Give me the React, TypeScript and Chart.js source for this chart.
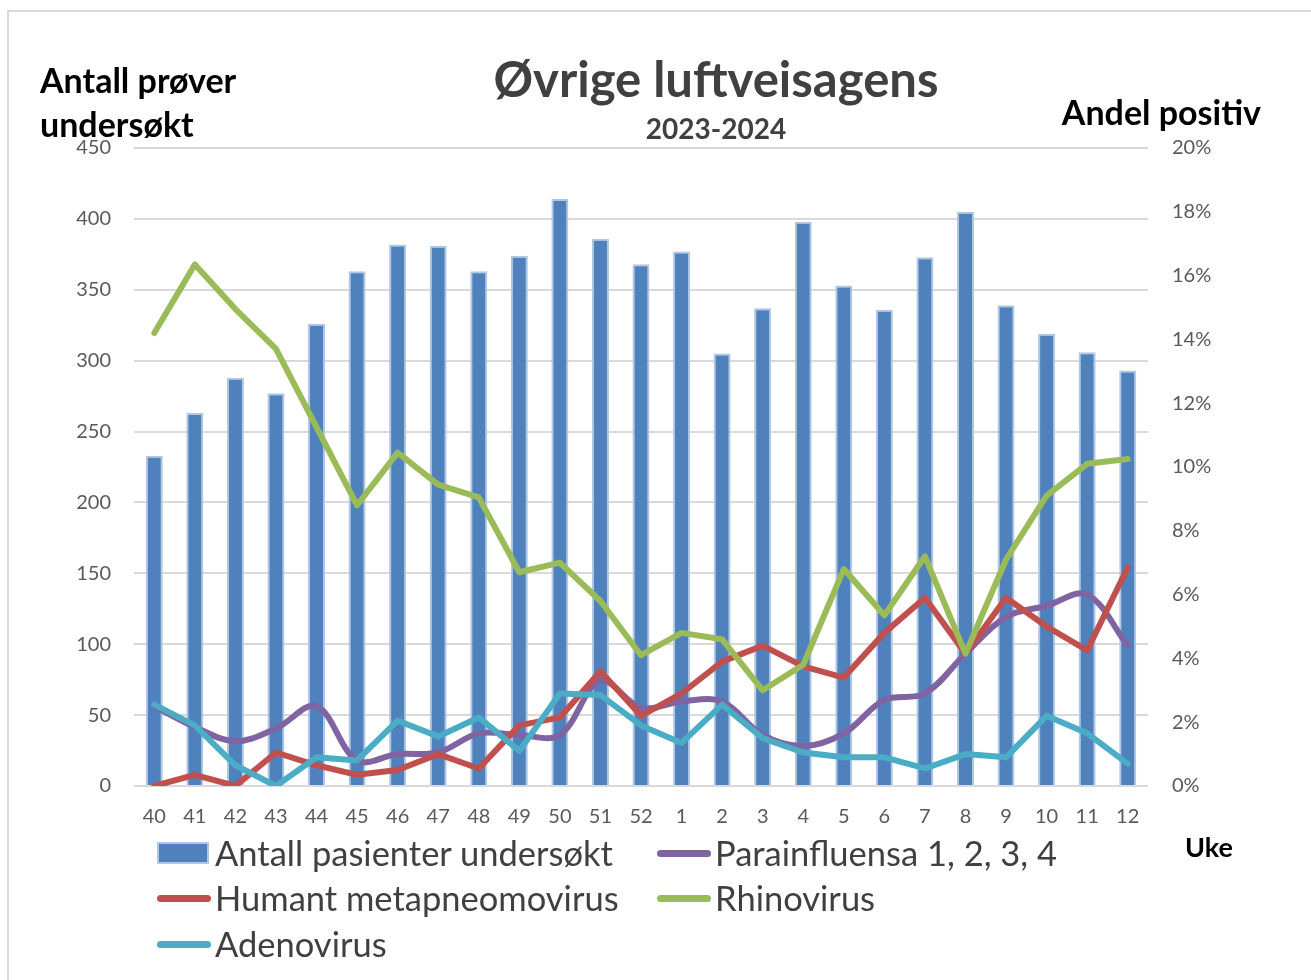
import React, { useEffect, useRef } from "react";
import { Chart, registerables } from "chart.js";

Chart.register(...registerables);

const weeks = ["40", "41", "42", "43", "44", "45", "46", "47", "48", "49", "50", "51", "52", "1", "2", "3", "4", "5", "6", "7", "8", "9", "10", "11", "12"];
const tested = [233, 263, 288, 277, 326, 363, 382, 381, 363, 374, 414, 386, 368, 377, 305, 337, 398, 353, 336, 373, 405, 339, 319, 306, 293];
const parainfluensa = [2.5, 1.85, 1.4, 1.8, 2.5, 0.8, 1.0, 1.05, 1.65, 1.6, 1.6, 3.3, 2.45, 2.65, 2.65, 1.6, 1.25, 1.65, 2.7, 2.9, 4.15, 5.3, 5.65, 6.0, 4.4];
const hmpv = [0, 0.35, 0, 1.05, 0.65, 0.35, 0.5, 1.0, 0.55, 1.9, 2.15, 3.6, 2.2, 2.9, 3.9, 4.4, 3.75, 3.4, 4.8, 5.9, 4.15, 5.9, 5.0, 4.25, 6.85];
const rhino = [14.2, 16.35, 14.95, 13.7, 11.25, 8.8, 10.45, 9.45, 9.05, 6.7, 7.0, 5.8, 4.1, 4.8, 4.6, 3.0, 3.8, 6.8, 5.35, 7.2, 4.15, 7.1, 9.1, 10.1, 10.25];
const adeno = [2.55, 1.9, 0.65, 0, 0.9, 0.8, 2.05, 1.55, 2.15, 1.1, 2.9, 2.85, 1.9, 1.35, 2.55, 1.5, 1.05, 0.9, 0.9, 0.55, 1.0, 0.9, 2.2, 1.65, 0.7];

const leftTicks = [0, 50, 100, 150, 200, 250, 300, 350, 400, 450];
const rightTicks = [0, 2, 4, 6, 8, 10, 12, 14, 16, 18, 20];

const titleText = "Øvrige luftveisagens";
const subtitleText = "2023-2024";
const leftAxisTitle = ["Antall prøver", "undersøkt"];
const rightAxisTitle = "Andel positiv";
const xAxisTitle = "Uke";

const C_BAR = "#4f81bd";
const C_BAR_BORDER = "#b0c7e3";
const C_PARA = "#8064a2";
const C_HMPV = "#c0504d";
const C_RHINO = "#9bbb59";
const C_ADENO = "#4bacc6";

const FONT = "Lato, 'Open Sans', sans-serif";

const legendItems = [
  { label: "Antall pasienter undersøkt", color: C_BAR, bar: true, x: 157, y: 853 },
  { label: "Parainfluensa 1, 2, 3, 4", color: C_PARA, bar: false, x: 657, y: 853 },
  { label: "Humant metapneomovirus", color: C_HMPV, bar: false, x: 157, y: 898 },
  { label: "Rhinovirus", color: C_RHINO, bar: false, x: 657, y: 898 },
  { label: "Adenovirus", color: C_ADENO, bar: false, x: 157, y: 944 },
];

export default function App() {
  const canvasRef = useRef<HTMLCanvasElement | null>(null);

  useEffect(() => {
    if (!canvasRef.current) return;
    const lineDs = (label: string, data: number[], color: string, order: number, tension = 0) => ({
      type: "line" as const,
      label,
      data,
      yAxisID: "y1",
      borderColor: color,
      backgroundColor: color,
      borderWidth: 6,
      pointRadius: 0,
      pointHoverRadius: 0,
      tension,
      borderJoinStyle: "round" as const,
      borderCapStyle: "round" as const,
      fill: false,
      order,
    });
    const chart = new Chart(canvasRef.current, {
      type: "bar",
      data: {
        labels: weeks,
        datasets: [
          {
            type: "bar",
            label: "Antall pasienter undersøkt",
            data: tested,
            yAxisID: "y",
            backgroundColor: C_BAR,
            borderColor: C_BAR_BORDER,
            borderWidth: 2,
            barPercentage: 0.42,
            categoryPercentage: 1,
            order: 10,
          } as any,
          lineDs("Parainfluensa 1, 2, 3, 4", parainfluensa, C_PARA, 4, 0.35),
          lineDs("Humant metapneomovirus", hmpv, C_HMPV, 3),
          lineDs("Rhinovirus", rhino, C_RHINO, 2),
          lineDs("Adenovirus", adeno, C_ADENO, 1),
        ],
      },
      options: {
        responsive: false,
        animation: false,
        layout: { padding: { top: 148, bottom: 144, left: 0, right: 0 } },
        plugins: {
          legend: { display: false },
          title: { display: false },
          tooltip: { enabled: false },
        },
        scales: {
          x: {
            grid: { display: false, drawTicks: false },
            border: { display: false },
            ticks: {
              color: "#595959",
              font: { family: FONT, size: 20 },
              padding: 19,
              maxRotation: 0,
              autoSkip: false,
            },
            afterFit: (s: any) => {
              s.height = 50;
            },
          },
          y: {
            position: "left",
            min: 0,
            max: 450,
            afterBuildTicks: (s: any) => {
              s.ticks = leftTicks.map((v) => ({ value: v }));
            },
            ticks: {
              color: "#595959",
              font: { family: FONT, size: 20 },
              padding: 23,
            },
            grid: { color: "#d9d9d9", lineWidth: 2, drawTicks: false },
            border: { display: false },
            afterFit: (s: any) => {
              s.width = 134;
            },
          },
          y1: {
            position: "right",
            min: 0,
            max: 20,
            afterBuildTicks: (s: any) => {
              s.ticks = rightTicks.map((v) => ({ value: v }));
            },
            ticks: {
              color: "#595959",
              font: { family: FONT, size: 20 },
              padding: 24,
              callback: (v: any) => `${v}%`,
            },
            grid: { display: false, drawTicks: false },
            border: { display: false },
            afterFit: (s: any) => {
              s.width = 163;
            },
          },
        },
      } as any,
    });
    return () => chart.destroy();
  }, []);

  const abs = (extra: React.CSSProperties): React.CSSProperties => ({
    position: "absolute",
    whiteSpace: "nowrap",
    fontFamily: FONT,
    ...extra,
  });

  return (
    <div
      style={{
        position: "absolute",
        left: 0,
        top: 0,
        width: 1311,
        height: 980,
        overflow: "hidden",
        background: "#ffffff",
      }}
    >
      <div
        style={{
          position: "absolute",
          left: 7,
          top: 10,
          width: 1400,
          height: 1100,
          border: "2px solid #d9d9d9",
          boxSizing: "border-box",
        }}
      />
      <canvas
        ref={canvasRef}
        width={1311}
        height={980}
        style={{ position: "absolute", left: 0, top: 0, width: 1311, height: 980 }}
      />
      <div style={abs({ left: 0, width: 1432, top: 50, lineHeight: "56px", fontSize: 49, fontWeight: 700, color: "#404040", textAlign: "center" })}>
        {titleText}
      </div>
      <div style={abs({ left: 0, width: 1432, top: 111, lineHeight: "34px", fontSize: 28, fontWeight: 700, color: "#404040", textAlign: "center" })}>
        {subtitleText}
      </div>
      <div style={abs({ left: 40, top: 58, lineHeight: "44px", fontSize: 34, fontWeight: 700, color: "#000000" })}>
        {leftAxisTitle[0]}
        <br />
        {leftAxisTitle[1]}
      </div>
      <div style={abs({ right: 1311 - 1261, top: 90, lineHeight: "44px", fontSize: 34, fontWeight: 700, color: "#000000" })}>
        {rightAxisTitle}
      </div>
      <div style={abs({ left: 1185, top: 831, lineHeight: "32px", fontSize: 27, fontWeight: 700, color: "#000000" })}>
        {xAxisTitle}
      </div>
      {legendItems.map((it) => (
        <div key={it.label} style={abs({ left: it.x, top: it.y - 22, height: 44, display: "flex", alignItems: "center" })}>
          {it.bar ? (
            <div
              style={{
                width: 52,
                height: 22,
                background: C_BAR,
                border: `2px solid ${C_BAR_BORDER}`,
                boxSizing: "border-box",
              }}
            />
          ) : (
            <div style={{ width: 54, height: 7, borderRadius: 4, background: it.color }} />
          )}
          <span style={{ marginLeft: it.bar ? 6 : 4, fontSize: 34.5, lineHeight: "44px", color: "#404040" }}>{it.label}</span>
        </div>
      ))}
    </div>
  );
}
